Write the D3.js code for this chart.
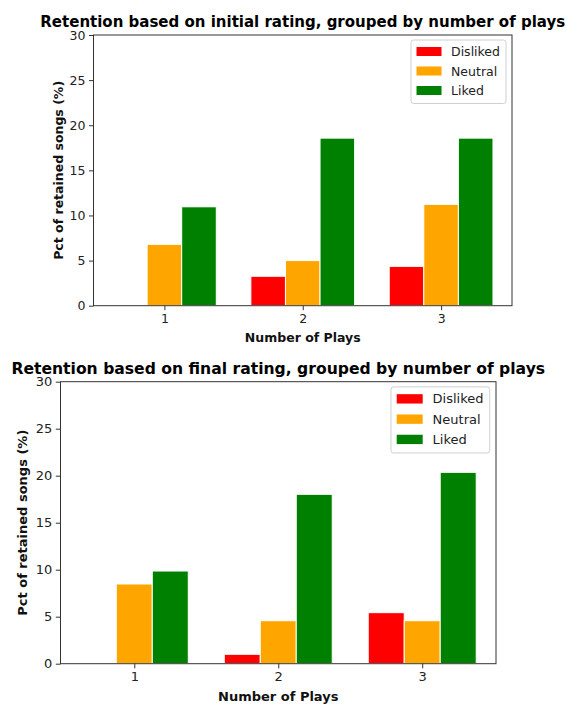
<!DOCTYPE html>
<html>
<head>
<meta charset="utf-8">
<script src="https://cdn.jsdelivr.net/npm/d3@7/dist/d3.min.js"></script>
<style>
  html, body { margin: 0; padding: 0; background: #fff; }
  svg { display: block; font-family: "DejaVu Sans", sans-serif; }
</style>
</head>
<body>
<svg id="chart" width="566" height="704"></svg>
<script>
// Number of plays (x categories) and rating groups
const plays = [1, 2, 3];
const ratings = ["Disliked", "Neutral", "Liked"];
const ratingColors = ["red", "orange", "green"];
const yTicks = [0, 5, 10, 15, 20, 25, 30];

// Retention (%) by initial rating
const initialDisliked = [0, 3.26, 4.36];
const initialNeutral = [6.8, 5.0, 11.23];
const initialLiked = [10.96, 18.57, 18.57];

// Retention (%) by final rating
const finalDisliked = [0, 1.0, 5.43];
const finalNeutral = [8.48, 4.57, 4.57];
const finalLiked = [9.86, 18.02, 20.36];

const svg = d3.select("#chart");
const barWidth = 0.25;

function drawPanel(opts) {
  const { left, right, top, bottom, title, series, yLabelX, s } = opts;
  const g = svg.append("g");
  const fs = 12.5 * s;

  const x = d3.scaleLinear().domain([0.4875, 3.5125]).range([left, right]);
  const y = d3.scaleLinear().domain([0, 30]).range([bottom, top]);

  // bars
  series.forEach((vals, si) => {
    g.append("g")
      .selectAll("rect")
      .data(plays.map((p, i) => ({ p, v: vals[i] })))
      .join("rect")
      .attr("x", d => x(d.p + (si - 1) * barWidth - barWidth / 2))
      .attr("width", d => x(d.p + barWidth / 2) - x(d.p - barWidth / 2))
      .attr("y", d => y(d.v))
      .attr("height", d => y(0) - y(d.v))
      .attr("fill", ratingColors[si])
      .attr("stroke", d => d.v > 0 ? "#fff" : "none")
      .attr("stroke-width", 1);
  });

  // axes
  const yAxis = d3.axisLeft(y).tickValues(yTicks).tickSize(4.5 * s).tickPadding(3.5 * s);
  const xAxis = d3.axisBottom(x).tickValues(plays).tickSize(4.5 * s).tickPadding(3.5 * s).tickFormat(d3.format("d"));

  const ya = g.append("g").attr("transform", `translate(${left},0)`).call(yAxis);
  const xa = g.append("g").attr("transform", `translate(0,${bottom})`).call(xAxis);
  [ya, xa].forEach(a => {
    a.select(".domain").remove();
    a.selectAll(".tick line").attr("stroke", "#333").attr("stroke-width", 1);
    a.selectAll(".tick text").attr("fill", "#222").style("font-size", fs + "px")
      .style("font-family", "DejaVu Sans");
  });

  // frame
  g.append("rect")
    .attr("x", left).attr("y", top)
    .attr("width", right - left).attr("height", bottom - top)
    .attr("fill", "none").attr("stroke", "#333").attr("stroke-width", 1);

  // title
  g.append("text")
    .attr("x", (left + right) / 2).attr("y", top - 7.8 * s)
    .attr("text-anchor", "middle")
    .style("font-size", (15 * s) + "px").style("font-weight", "bold")
    .attr("fill", "#000")
    .text(title);

  // axis labels
  g.append("text")
    .attr("x", (left + right) / 2).attr("y", bottom + 36 * s)
    .attr("text-anchor", "middle")
    .style("font-size", fs + "px").style("font-weight", "bold")
    .attr("fill", "#111")
    .text("Number of Plays");

  g.append("text")
    .attr("transform", `translate(${yLabelX},${(top + bottom) / 2}) rotate(-90)`)
    .attr("text-anchor", "middle")
    .attr("dominant-baseline", "central")
    .style("font-size", fs + "px").style("font-weight", "bold")
    .attr("fill", "#111")
    .text("Pct of retained songs (%)");

  // legend
  const lg = g.append("g");
  const rowH = 19.5 * s;
  const boxTop = top + 5 * s;
  const items = lg.selectAll("g.item").data(ratings).join("g").attr("class", "item");
  const texts = items.append("text")
    .attr("y", (d, i) => boxTop + 11.5 * s + i * rowH)
    .attr("dominant-baseline", "central")
    .style("font-size", fs + "px")
    .attr("fill", "#222")
    .text(d => d);
  let maxW = 0;
  texts.each(function () { maxW = Math.max(maxW, this.getComputedTextLength()); });
  const boxW = (40 + 6) * s + maxW;
  const boxRight = right - 6 * s;
  const boxLeft = boxRight - boxW;
  const boxH = (12 + 12.5) * s + rowH * 2;
  lg.insert("rect", ":first-child")
    .attr("x", boxLeft).attr("y", boxTop)
    .attr("width", boxW).attr("height", boxH)
    .attr("rx", 2.5)
    .attr("fill", "#fff").attr("fill-opacity", 0.8)
    .attr("stroke", "#d0d0d0").attr("stroke-width", 1);
  texts.attr("x", boxLeft + 40 * s);
  items.append("rect")
    .attr("x", boxLeft + 5.5 * s)
    .attr("y", (d, i) => boxTop + 11.5 * s + i * rowH - 4.5 * s)
    .attr("width", 25 * s).attr("height", 9 * s)
    .attr("fill", (d, i) => ratingColors[i]);
}

drawPanel({
  left: 93.5, right: 512, top: 35, bottom: 305.7,
  title: "Retention based on initial rating, grouped by number of plays",
  series: [initialDisliked, initialNeutral, initialLiked],
  yLabelX: 58, s: 1
});

drawPanel({
  left: 60.5, right: 496, top: 381.7, bottom: 663.7,
  title: "Retention based on final rating, grouped by number of plays",
  series: [finalDisliked, finalNeutral, finalLiked],
  yLabelX: 22, s: 1.04
});
</script>
</body>
</html>
